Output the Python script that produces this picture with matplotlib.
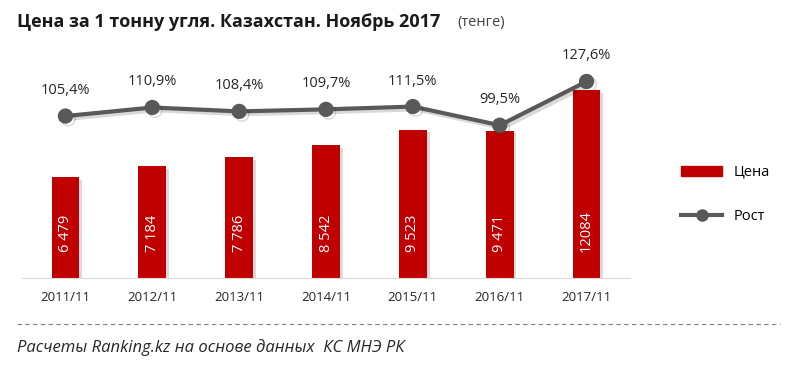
import matplotlib.pyplot as plt
import matplotlib.patheffects as pe
from matplotlib.lines import Line2D
from matplotlib.patches import Patch

plt.rcParams['font.family'] = ['Open Sans', 'DejaVu Sans']

periods = ['2011/11', '2012/11', '2013/11', '2014/11', '2015/11', '2016/11', '2017/11']
price = [6479, 7184, 7786, 8542, 9523, 9471, 12084]
growth = [105.4, 110.9, 108.4, 109.7, 111.5, 99.5, 127.6]

RED = '#C00000'
GREY = '#595959'

fig = plt.figure(figsize=(8, 3.67), dpi=100)
ax = fig.add_axes([0.0275, 0.2425, 0.76, 0.594])
ax2 = ax.twinx()

x = range(len(periods))
bar_fx = [pe.SimplePatchShadow(offset=(2, -2), alpha=0.15), pe.Normal()]
bars = ax.bar(x, price, width=0.32, color=RED, zorder=2, path_effects=bar_fx)

for xi, v in zip(x, price):
    lbl = f"{v:,}".replace(',', ' ') if v < 10000 else str(v)
    ax.text(xi, 1700, lbl, rotation=90, ha='center', va='bottom',
            color='white', fontsize=10.5)

ax.set_xlim(-0.5, 6.5)
ax.set_ylim(0, 14000)
ax2.set_ylim(1.4, 141.4)

line_fx = [pe.SimpleLineShadow(offset=(2, -2), alpha=0.15), pe.Normal()]
ax2.plot(x, growth, color=GREY, lw=3, marker='o', markersize=10, zorder=3,
         path_effects=line_fx)
for xi, g in zip(x, growth):
    ax2.annotate(f"{g:.1f}%".replace('.', ','), (xi, g), xytext=(0, 13),
                 textcoords='offset points', ha='center', va='bottom',
                 fontsize=10.5, color='#262626')

for a in (ax, ax2):
    for s in ['top', 'right', 'left']:
        a.spines[s].set_visible(False)
    a.set_yticks([])
ax2.spines['bottom'].set_visible(False)
ax.spines['bottom'].set_color('#d9d9d9')
ax.set_xticks(list(x))
ax.set_xticklabels(periods, fontsize=9.5, color='#262626')
ax.tick_params(axis='x', length=0, pad=9)

fig.text(0.021, 0.94, 'Цена за 1 тонну угля. Казахстан. Ноябрь 2017', fontsize=13,
         fontweight='bold', color='#1a1a1a', va='center')
fig.text(0.572, 0.94, '(тенге)', fontsize=10.5, color='#404040', va='center')

handles = [Patch(color=RED), Line2D([], [], color=GREY, lw=3, marker='o', markersize=8)]
fig.legend(handles, ['Цена', 'Рост'], loc='center left', bbox_to_anchor=(0.835, 0.47),
           frameon=False, fontsize=10.5, labelspacing=2.0, handlelength=2.8)

fig.add_artist(Line2D([0.021, 0.975], [0.117, 0.117], transform=fig.transFigure,
                      color='#7f7f7f', lw=0.8, ls=(0, (4, 3))))
fig.text(0.021, 0.054, 'Расчеты Ranking.kz на основе данных  КС МНЭ РК', fontsize=12,
         style='italic', color='#262626', va='center')

fig.savefig('out.png', dpi=100)
